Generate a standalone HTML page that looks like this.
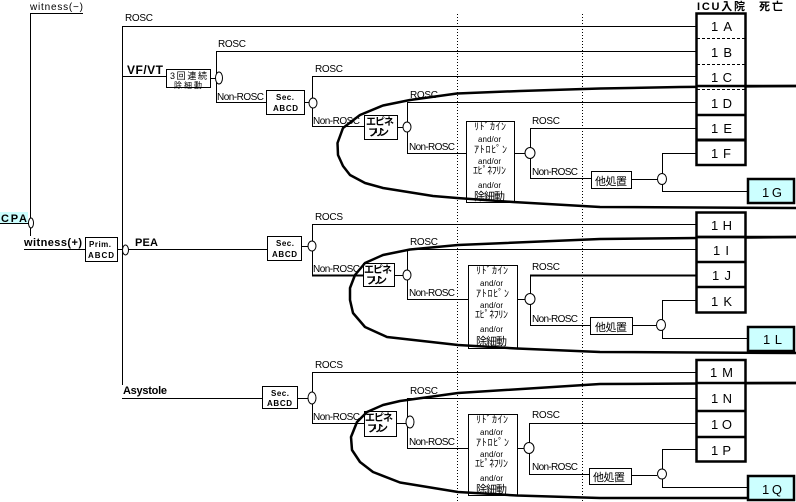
<!DOCTYPE html>
<html><head><meta charset="utf-8"><style>
html,body{margin:0;padding:0;background:#fff;}
svg{display:block;}
text{font-family:"Liberation Sans","Noto Sans CJK JP",sans-serif;fill:#000;}
.s{font-size:10px;}
.b{font-weight:bold;}
.j{font-family:"Liberation Sans","Noto Sans CJK JP",sans-serif;}
.L{font-size:13px;}
</style></head><body>
<svg width="796" height="502" viewBox="0 0 796 502" xmlns="http://www.w3.org/2000/svg">
<rect width="796" height="502" fill="#fff"/>
<g stroke="#000" stroke-width="1" fill="none" shape-rendering="crispEdges">
<!-- dotted verticals -->
<line x1="457.5" y1="14" x2="457.5" y2="502" stroke-dasharray="1,2"/>
<line x1="582.5" y1="14" x2="582.5" y2="502" stroke-dasharray="1,2"/>
<!-- witness(-) -->
<polyline points="83,13.5 30.5,13.5 30.5,236"/>
<line x1="0" y1="223.5" x2="29" y2="223.5"/>
<line x1="24" y1="249.5" x2="85" y2="249.5"/>
<line x1="117" y1="249.5" x2="123" y2="249.5"/>
<line x1="122.5" y1="26" x2="122.5" y2="385"/>
<!-- top section -->
<line x1="122" y1="26.5" x2="696" y2="26.5"/>
<line x1="122" y1="76.5" x2="166" y2="76.5"/>
<line x1="210" y1="78.5" x2="216" y2="78.5"/>
<line x1="216.5" y1="51" x2="216.5" y2="102"/>
<line x1="216" y1="51.5" x2="696" y2="51.5"/>
<line x1="216" y1="102.5" x2="266" y2="102.5"/>
<line x1="304" y1="102.5" x2="309" y2="102.5"/>
<line x1="312.5" y1="76" x2="312.5" y2="126"/>
<line x1="312" y1="76.5" x2="696" y2="76.5"/>
<line x1="312" y1="126.5" x2="364" y2="126.5"/>
<line x1="397" y1="127.5" x2="403" y2="127.5"/>
<line x1="407.5" y1="102" x2="407.5" y2="153"/>
<line x1="407" y1="102.5" x2="696" y2="102.5"/>
<line x1="407" y1="153.5" x2="466" y2="153.5"/>
<line x1="514" y1="153.5" x2="525" y2="153.5"/>
<line x1="530.5" y1="128" x2="530.5" y2="178"/>
<line x1="530" y1="128.5" x2="696" y2="128.5"/>
<line x1="530" y1="178.5" x2="591" y2="178.5"/>
<line x1="631" y1="179.5" x2="658" y2="179.5"/>
<line x1="662.5" y1="153" x2="662.5" y2="191"/>
<line x1="662" y1="153.5" x2="696" y2="153.5"/>
<line x1="662" y1="191.5" x2="747" y2="191.5"/>
<!-- middle section -->
<line x1="128" y1="249.5" x2="267" y2="249.5"/>
<line x1="301" y1="246.5" x2="308" y2="246.5"/>
<line x1="312.5" y1="224" x2="312.5" y2="275"/>
<line x1="312" y1="224.5" x2="696" y2="224.5"/>
<line x1="312" y1="275.5" x2="363" y2="275.5" stroke-width="2"/>
<line x1="394" y1="275.5" x2="403" y2="275.5"/>
<line x1="407.5" y1="249" x2="407.5" y2="299"/>
<line x1="407" y1="249.5" x2="696" y2="249.5"/>
<line x1="407" y1="299.5" x2="468" y2="299.5"/>
<line x1="517" y1="299.5" x2="525" y2="299.5"/>
<line x1="530.5" y1="275" x2="530.5" y2="325"/>
<line x1="530" y1="275.5" x2="696" y2="275.5" stroke-width="2"/>
<line x1="530" y1="325.5" x2="590" y2="325.5"/>
<line x1="632" y1="325.5" x2="656" y2="325.5"/>
<line x1="662.5" y1="300" x2="662.5" y2="338"/>
<line x1="662" y1="300.5" x2="696" y2="300.5"/>
<line x1="662" y1="338.5" x2="747" y2="338.5"/>
<!-- bottom section -->
<line x1="122" y1="398.5" x2="262" y2="398.5"/>
<line x1="297" y1="398.5" x2="308" y2="398.5"/>
<line x1="312.5" y1="372" x2="312.5" y2="423"/>
<line x1="312" y1="372.5" x2="696" y2="372.5"/>
<line x1="312" y1="423.5" x2="364" y2="423.5"/>
<line x1="396" y1="423.5" x2="406" y2="423.5"/>
<line x1="407.5" y1="398" x2="407.5" y2="448"/>
<line x1="407" y1="398.5" x2="696" y2="398.5"/>
<line x1="407" y1="448.5" x2="468" y2="448.5"/>
<line x1="517" y1="448.5" x2="524" y2="448.5"/>
<line x1="529.5" y1="423" x2="529.5" y2="474"/>
<line x1="529" y1="423.5" x2="696" y2="423.5"/>
<line x1="529" y1="474.5" x2="589" y2="474.5"/>
<line x1="631" y1="475.5" x2="657" y2="475.5"/>
<line x1="662.5" y1="449" x2="662.5" y2="487"/>
<line x1="662" y1="449.5" x2="696" y2="449.5"/>
<line x1="662" y1="487.5" x2="747" y2="487.5"/>
</g>

<!-- boxes -->
<g stroke="#000" stroke-width="1" fill="#fff" shape-rendering="crispEdges">
<rect x="0" y="212" width="28" height="11" fill="#ccffff" stroke="none"/>
<rect x="85.5" y="237.5" width="32" height="24"/>
<rect x="166.5" y="69.5" width="44" height="18"/>
<rect x="266.5" y="90.5" width="38" height="24"/>
<rect x="364.5" y="115.5" width="33" height="24"/>
<rect x="466.5" y="121.5" width="48" height="81"/>
<rect x="591.5" y="171.5" width="40" height="17"/>
<rect x="267.5" y="236.5" width="34" height="24"/>
<rect x="363.5" y="263.5" width="31" height="23"/>
<rect x="468.5" y="265.5" width="49" height="83"/>
<rect x="590.5" y="317.5" width="42" height="17"/>
<rect x="262.5" y="386.5" width="35" height="22"/>
<rect x="364.5" y="411.5" width="32" height="25"/>
<rect x="468.5" y="414.5" width="49" height="81"/>
<rect x="589.5" y="468.5" width="42" height="16"/>
</g>

<!-- junction ellipses -->
<g stroke="#000" stroke-width="1" fill="#fff">
<ellipse cx="31" cy="223" rx="2.5" ry="5"/>
<ellipse cx="125.5" cy="250" rx="3" ry="5"/>
<ellipse cx="219" cy="78" rx="3.5" ry="6"/>
<ellipse cx="313" cy="103" rx="4" ry="5"/>
<ellipse cx="407" cy="127" rx="4" ry="5"/>
<ellipse cx="530" cy="153" rx="5" ry="5.5"/>
<ellipse cx="662" cy="179" rx="4.5" ry="5.5"/>
<ellipse cx="312" cy="246" rx="4" ry="5"/>
<ellipse cx="407" cy="275" rx="4" ry="5"/>
<ellipse cx="530" cy="299" rx="5" ry="5.5"/>
<ellipse cx="661" cy="325" rx="4.5" ry="5.5"/>
<ellipse cx="312" cy="398" rx="4" ry="6"/>
<ellipse cx="410" cy="422" rx="4" ry="6"/>
<ellipse cx="529" cy="448" rx="5" ry="5.5"/>
<ellipse cx="662" cy="474" rx="4.5" ry="5"/>
</g>

<!-- thick curves -->
<g stroke="#000" stroke-width="2.5" fill="none" stroke-linejoin="round" stroke-linecap="round">
<polyline points="796,86 680,87 600,88.5 520,91 457,93.5 410,100 383,105.5 360,115 343,128 337.5,143 338,155 343,166 350,175 365,183 383,188 433,196 457,198 513,202 600,207 796,208"/>
<polyline points="796,237 600,239 458,245 410,249.5 383,255 365,263 355,275 350,288 350,300 353,313 365,327 387,337 458,345 517,348.5 600,352 796,353"/>
<polyline points="796,383 600,384 458,393 400,401 383,405 367,412 357,422 351,437 352,450 360,462 373,472 400,482.5 458,492 517,495.5 600,498 747,498"/>
</g>

<!-- right result boxes -->
<g fill="none" stroke="#000">
<rect x="696.5" y="13.5" width="49" height="151.5" stroke-width="2.5" fill="#fff"/>
<line x1="697" y1="38.5" x2="745" y2="38.5" stroke-dasharray="3,2" stroke-width="1"/>
<line x1="697" y1="64.5" x2="745" y2="64.5" stroke-dasharray="3,2" stroke-width="1"/>
<line x1="697" y1="89.5" x2="745" y2="89.5" stroke-dasharray="3,2" stroke-width="1"/>
<line x1="697" y1="115" x2="745" y2="115" stroke-width="2.5"/>
<line x1="697" y1="140" x2="745" y2="140" stroke-width="3"/>
<rect x="748" y="179" width="46" height="24" stroke-width="2.5" fill="#ccffff"/>

<rect x="696.5" y="212.5" width="49" height="100" stroke-width="2.5" fill="#fff"/>
<line x1="697" y1="237" x2="745" y2="237" stroke-width="2.5"/>
<line x1="697" y1="262" x2="745" y2="262" stroke-width="2.5"/>
<line x1="697" y1="287" x2="745" y2="287" stroke-width="2.5"/>
<rect x="748" y="327" width="46" height="24" stroke-width="2.5" fill="#ccffff"/>

<rect x="696.5" y="360" width="49" height="101.5" stroke-width="2.5" fill="#fff"/>
<line x1="697" y1="411" x2="745" y2="411" stroke-width="2.5"/>
<line x1="697" y1="437" x2="745" y2="437" stroke-width="2.5"/>
<rect x="748" y="476" width="46" height="24" stroke-width="2.5" fill="#ccffff"/>
</g>
<!-- ellipse lines crossing boxes again on top -->
<g stroke="#000" stroke-width="2.5">
<line x1="696" y1="86" x2="796" y2="86"/>
<line x1="696" y1="237" x2="796" y2="237"/>
<line x1="696" y1="383" x2="796" y2="383"/>
</g>

<!-- texts -->
<text class="s" x="30" y="10" textLength="53">witness(−)</text>
<text class="b" x="1" y="222" font-size="11" textLength="26">CPA</text>
<text class="b" x="24" y="246" font-size="11" textLength="58">witness(+)</text>
<text class="b" x="89" y="247" font-size="8" textLength="22">Prim.</text>
<text class="b" x="88" y="258" font-size="8" textLength="26">ABCD</text>

<text class="s" x="125" y="21" textLength="28">ROSC</text>
<text class="b" x="127" y="74" font-size="12" textLength="36">VF/VT</text>
<text x="170" y="79" font-size="9" textLength="37">3回連続</text>
<text x="174" y="88" font-size="8" textLength="28">除細動</text>
<text class="s" x="218" y="47" textLength="28">ROSC</text>
<text class="s" x="217" y="100" textLength="47">Non-ROSC</text>
<text class="b" x="276" y="100" font-size="8" textLength="18">Sec.</text>
<text class="b" x="273" y="111" font-size="8" textLength="25">ABCD</text>
<text class="s" x="315" y="72" textLength="28">ROSC</text>
<text class="s" x="313" y="124" textLength="47">Non-ROSC</text>
<text class="b" x="366" y="125" font-size="10" textLength="28">エピネ</text>
<text class="b" x="368" y="136" font-size="10" textLength="21">フリン</text>
<text class="s" x="410" y="98" textLength="28">ROSC</text>
<text class="s" x="409" y="150" textLength="46">Non-ROSC</text>
<text x="474" y="130" font-size="10" textLength="32">ﾘﾄﾞｶｲﾝ</text>
<text x="478" y="142" font-size="8" textLength="23">and/or</text>
<text x="474" y="153" font-size="10" textLength="33">ｱﾄﾛﾋﾟﾝ</text>
<text x="478" y="164" font-size="8" textLength="23">and/or</text>
<text x="473" y="174" font-size="10" textLength="33">ｴﾋﾟﾈﾌﾘﾝ</text>
<text x="478" y="188" font-size="8" textLength="23">and/or</text>
<text x="474" y="200" font-size="11" textLength="31">除細動</text>
<text class="s" x="532" y="124" textLength="28">ROSC</text>
<text class="s" x="532" y="175" textLength="46">Non-ROSC</text>
<text x="595" y="185" font-size="11" textLength="32">他処置</text>

<text class="b" x="135" y="246" font-size="11" textLength="23">PEA</text>
<text class="b" x="276" y="246" font-size="8" textLength="18">Sec.</text>
<text class="b" x="272" y="257" font-size="8" textLength="25">ABCD</text>
<text class="s" x="315" y="220" textLength="28">ROCS</text>
<text class="s" x="313" y="272" textLength="47">Non-ROSC</text>
<text class="b" x="364" y="273" font-size="10" textLength="28">エピネ</text>
<text class="b" x="366" y="284" font-size="10" textLength="21">フリン</text>
<text class="s" x="410" y="245" textLength="28">ROSC</text>
<text class="s" x="409" y="296" textLength="46">Non-ROSC</text>
<text x="476" y="274" font-size="10" textLength="32">ﾘﾄﾞｶｲﾝ</text>
<text x="480" y="286" font-size="8" textLength="23">and/or</text>
<text x="476" y="297" font-size="10" textLength="33">ｱﾄﾛﾋﾟﾝ</text>
<text x="480" y="308" font-size="8" textLength="23">and/or</text>
<text x="475" y="318" font-size="10" textLength="33">ｴﾋﾟﾈﾌﾘﾝ</text>
<text x="480" y="332" font-size="8" textLength="23">and/or</text>
<text x="476" y="345" font-size="11" textLength="31">除細動</text>
<text class="s" x="532" y="270" textLength="28">ROSC</text>
<text class="s" x="532" y="322" textLength="46">Non-ROSC</text>
<text x="595" y="331" font-size="11" textLength="32">他処置</text>

<text class="b" x="123" y="394" font-size="11" textLength="44">Asystole</text>
<text class="b" x="271" y="396" font-size="8" textLength="18">Sec.</text>
<text class="b" x="267" y="406" font-size="8" textLength="25">ABCD</text>
<text class="s" x="315" y="368" textLength="28">ROCS</text>
<text class="s" x="313" y="420" textLength="47">Non-ROSC</text>
<text class="b" x="365" y="421" font-size="10" textLength="28">エピネ</text>
<text class="b" x="367" y="432" font-size="10" textLength="21">フリン</text>
<text class="s" x="410" y="394" textLength="28">ROSC</text>
<text class="s" x="409" y="445" textLength="46">Non-ROSC</text>
<text x="476" y="423" font-size="10" textLength="32">ﾘﾄﾞｶｲﾝ</text>
<text x="480" y="435" font-size="8" textLength="23">and/or</text>
<text x="476" y="446" font-size="10" textLength="33">ｱﾄﾛﾋﾟﾝ</text>
<text x="480" y="457" font-size="8" textLength="23">and/or</text>
<text x="475" y="467" font-size="10" textLength="33">ｴﾋﾟﾈﾌﾘﾝ</text>
<text x="480" y="481" font-size="8" textLength="23">and/or</text>
<text x="476" y="493" font-size="11" textLength="31">除細動</text>
<text class="s" x="532" y="418" textLength="28">ROSC</text>
<text class="s" x="532" y="470" textLength="46">Non-ROSC</text>
<text x="593" y="481" font-size="11" textLength="32">他処置</text>

<!-- header -->
<text class="b" x="697" y="10" font-size="11" textLength="48">ICU入院</text>
<text class="b" x="759" y="10" font-size="11" textLength="24">死亡</text>

<!-- result labels -->
<g class="L">
<text x="711" y="31" textLength="21">1A</text>
<text x="711" y="57" textLength="21">1B</text>
<text x="711" y="82" textLength="21">1C</text>
<text x="711" y="108" textLength="21">1D</text>
<text x="711" y="133" textLength="21">1E</text>
<text x="711" y="158" textLength="20">1F</text>
<text x="762" y="197" textLength="20">1G</text>
<text x="711" y="230" textLength="21">1H</text>
<text x="713" y="255" textLength="16">1I</text>
<text x="712" y="280" textLength="19">1J</text>
<text x="711" y="306" textLength="21">1K</text>
<text x="763" y="344" textLength="19">1L</text>
<text x="710" y="377" textLength="23">1M</text>
<text x="711" y="403" textLength="21">1N</text>
<text x="711" y="429" textLength="21">1O</text>
<text x="711" y="455" textLength="20">1P</text>
<text x="762" y="494" textLength="20">1Q</text>
</g>
</svg>
</body></html>
